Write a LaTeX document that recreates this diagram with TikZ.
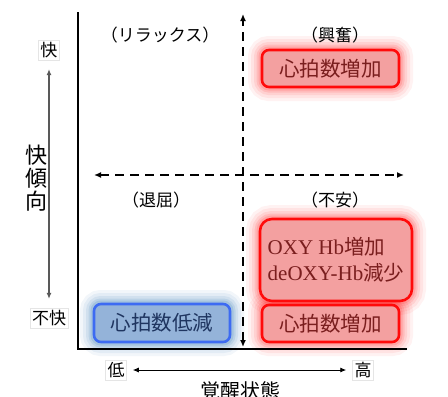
\documentclass[tikz,border=0pt]{standalone}
\usepackage{fontspec}
\setmainfont{Noto Sans CJK JP}
\newfontfamily\jp{Noto Sans CJK JP}
\newfontfamily\serifl{Liberation Serif}
\usetikzlibrary{arrows.meta}
\definecolor{redfill}{HTML}{F3A0A0}
\definecolor{redline}{HTML}{FF0A0A}
\definecolor{redtext}{HTML}{7A1E1E}
\definecolor{bluefill}{HTML}{94B3D9}
\definecolor{blueline}{HTML}{3D6BF2}
\definecolor{bluetext}{HTML}{1F3560}
\tikzset{
  lbl/.style={font=\jp\fontsize{17}{19}\selectfont, inner sep=1pt},
  sidelbl/.style={font=\jp\fontsize{17}{19}\selectfont, inner sep=2pt, draw=gray!20, line width=0.5pt},
  redbox/.style={draw=redline, line width=2.6pt, fill=redfill, rounded corners=7pt, text=redtext,
     font=\jp\fontsize{20.5}{22}\selectfont, inner sep=0pt},
  bluebox/.style={draw=blueline, line width=2.6pt, fill=bluefill, rounded corners=7pt, text=bluetext,
     font=\jp\fontsize{20.5}{22}\selectfont, inner sep=0pt},
  dashax/.style={line width=2.4pt, dash pattern=on 9pt off 6pt, {Latex[length=7pt,width=6pt]}-{Latex[length=7pt,width=6pt]}},
}
\newcommand{\glowbox}[6]{% x1 y1 x2 y2 color radius
  \foreach \w/\o in {28/0.05,22/0.06,16/0.08,11/0.1,7/0.12}{
    \draw[#5, line width=\w pt, opacity=\o, rounded corners=#6] (#1,#2) rectangle (#3,#4);
  }
}
\begin{document}
\begin{tikzpicture}[x=1pt,y=-1pt]
\useasboundingbox (0,0) rectangle (448,397);
\fill[white] (0,0) rectangle (448,397);

% glows
\glowbox{262}{50}{399}{87}{red}{7pt}
\glowbox{260}{219}{412}{301}{red}{12pt}
\glowbox{262}{305}{399}{342}{red}{7pt}
\glowbox{94}{304}{230}{342}{teal!70!blue}{7pt}

% axes
\coordinate (ytop) at (78,12);
\coordinate (orig) at (78,349);
\coordinate (xend) at (407,349);
\draw[line width=1.4pt] (ytop) -- (orig) -- (xend);

\coordinate (vt) at (243,14);
\coordinate (vb) at (243,347);
\coordinate (hl) at (94,175);
\coordinate (hr) at (404,175);
\draw[dashax] (vb) -- (vt);
\draw[dashax] (hl) -- (hr);

% quadrant labels
\node[lbl] (relax) at (160,35) {（リラックス）};
\node[lbl] (kofun) at (335,35) {（興奮）};
\node[lbl] (taikutsu) at (156,200) {（退屈）};
\node[lbl] (fuan) at (335,200) {（不安）};

% boxes
\node[redbox, minimum width=137pt, minimum height=37pt] (r1) at (330.5,68.5) {心拍数増加};
\node[redbox, rounded corners=12pt, minimum width=152pt, minimum height=82pt, align=left] (r2) at (336,260)
  {{\serifl\fontsize{21}{22}\selectfont OXY Hb}増加\\[4pt]{\serifl\fontsize{21}{22}\selectfont deOXY-Hb}減少};
\node[redbox, minimum width=137pt, minimum height=37pt] (r3) at (330.5,323.5) {心拍数増加};
\node[bluebox, minimum width=136pt, minimum height=38pt] (b1) at (162,323) {心拍数低減};

% left axis
\node[sidelbl] (kai) at (49,50) {快};
\node[sidelbl] (fukai) at (49,318) {不快};
\draw[gray!70!black, line width=1.3pt, {Latex[length=6pt,width=5pt]}-{Latex[length=6pt,width=5pt]}] ([yshift=-9pt]kai.south) -- ([yshift=9pt]fukai.north);
\node[font=\jp\fontsize{22}{23}\selectfont, align=center, inner sep=0pt] (keiko) at (37,178) {快\\傾\\向};

% bottom axis
\node[sidelbl] (low) at (116,370) {低};
\node[sidelbl] (high) at (363,370) {高};
\draw[line width=0.9pt, {Latex[length=6pt,width=5pt]}-{Latex[length=6pt,width=5pt]}] ([xshift=6pt]low.east) -- ([xshift=-6pt]high.west);
\node[font=\jp\fontsize{20}{22}\selectfont, inner sep=0pt] (kakusei) at (240,391) {覚醒状態};
\end{tikzpicture}
\end{document}
